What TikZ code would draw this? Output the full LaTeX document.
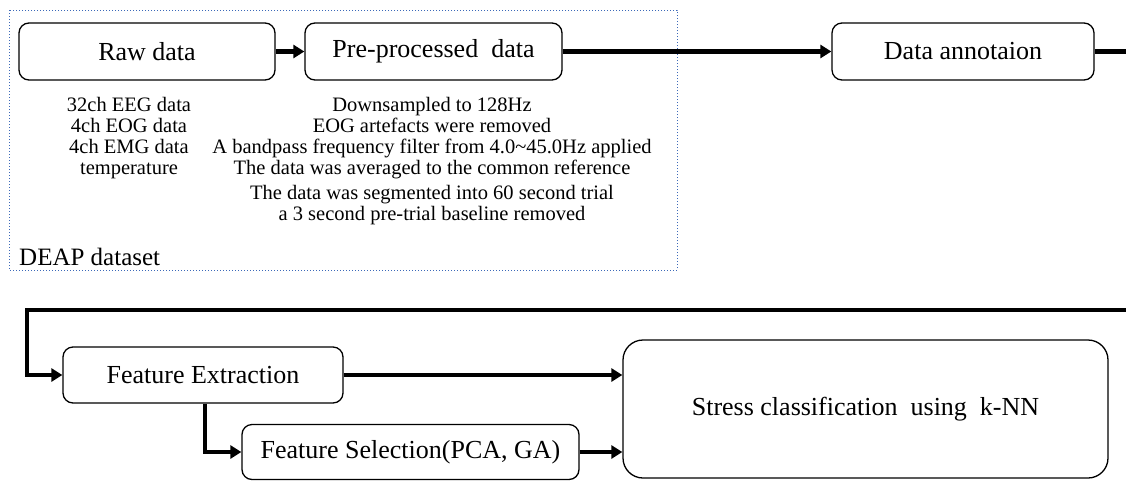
\documentclass[tikz,border=0pt]{standalone}
\usepackage{fontspec}
\setmainfont{Liberation Serif}
\usetikzlibrary{arrows.meta}
\definecolor{dotblue}{RGB}{60,105,185}
\tikzset{
  box/.style={draw, line width=1.3pt, rounded corners=10pt, inner sep=0pt, font=\fontsize{26}{30}\selectfont},
  flow/.style={line width=4.5pt, -{Triangle[length=11pt,width=13pt]}},
  flowplain/.style={line width=4.5pt},
  note/.style={align=center, inner sep=0pt, font=\fontsize{20.5}{21}\selectfont},
}
\begin{document}
\begin{tikzpicture}[x=1pt,y=-1pt]
\useasboundingbox (0,0) rectangle (1126,480);
% dotted DEAP frame
\draw[dotblue, line width=1pt, dotted] (9,10) rectangle (677,270);
\node[anchor=west, inner sep=0pt, font=\fontsize{25}{28}\selectfont] (deap) at (19,257) {DEAP dataset};
% top row
\node[box, minimum width=256pt, minimum height=57pt] (raw) at (147,51.5) {Raw data};
\node[box, minimum width=257pt, minimum height=57pt] (pre) at (433.5,51.5) {Pre-processed\ \ data};
\node[box, minimum width=262pt, minimum height=57pt] (ann) at (963,51.5) {Data annotaion};
% notes
\node[note, anchor=north] (rawnote) at (129,97) {32ch EEG data\\4ch EOG data\\4ch EMG data\\temperature};
\node[note, anchor=north] (prenote) at (432,97) {Downsampled to 128Hz\\EOG artefacts were removed\\A bandpass frequency filter from 4.0\textasciitilde45.0Hz applied\\The data was averaged to the common reference\\[4pt]The data was segmented into 60 second trial\\a 3 second pre-trial baseline removed};
% bottom row
\node[box, minimum width=280pt, minimum height=56pt] (fe) at (203,375) {Feature Extraction};
\node[box, minimum width=337pt, minimum height=55pt] (fs) at (410.5,452) {Feature Selection(PCA, GA)};
\node[box, rounded corners=20pt, minimum width=485pt, minimum height=138pt] (sc) at (865.5,409) {Stress classification\ \ using\ \ k-NN};
% edge coordinates
\coordinate (outR) at (1130,51.5);
\coordinate (inR) at (1130,310);
\coordinate (bend) at (27,310);
% connectors
\draw[flow] (raw.east) -- (pre.west);
\draw[flow] (pre.east) -- (ann.west);
\draw[flowplain] (ann.east) -- (outR);
\draw[flow] (inR) -- (bend) |- (fe.west);
\draw[flow] (fe.east) -- (fe.east -| sc.west);
\draw[flow] ([xshift=2pt]fe.south) |- (fs.west);
\draw[flow] (fs.east) -- (fs.east -| sc.west);
\end{tikzpicture}
\end{document}
